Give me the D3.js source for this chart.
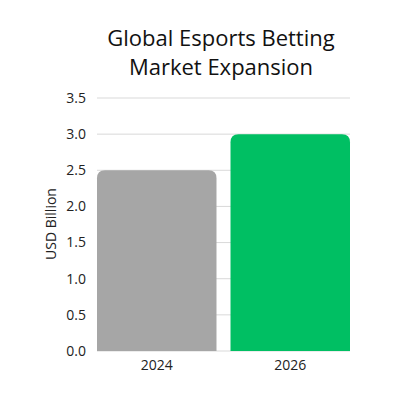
<!DOCTYPE html>
<html><head><meta charset="utf-8">
<script src="https://cdn.jsdelivr.net/npm/d3@7"></script>
<style>body{margin:0;background:#fff}svg{display:block}</style>
</head><body>
<svg id="c" width="400" height="400"></svg>
<script>
const categories = ["2024", "2026"];
const values = [2.5, 3.0];
const colors = ["#a6a6a6", "#00bf63"];
const yTicks = [0, 0.5, 1.0, 1.5, 2.0, 2.5, 3.0, 3.5];
const titleLines = ["Global Esports Betting", "Market Expansion"];
const yLabel = "USD Billion";

const svg = d3.select("#c");
const font = "'Open Sans', sans-serif";
const m = {l: 97, r: 350, t: 98, b: 351};
const x = d3.scaleBand().domain(categories).range([m.l, m.r]).paddingInner(0.105).paddingOuter(0);
const y = d3.scaleLinear().domain([0, 3.5]).range([m.b, m.t]);

svg.append("rect").attr("width",400).attr("height",400).attr("fill","#fff");

svg.selectAll("line.grid").data(yTicks).join("line")
  .attr("x1", m.l).attr("x2", m.r)
  .attr("y1", d => y(d)).attr("y2", d => y(d))
  .attr("stroke", "#d9d9d9").attr("stroke-width", 1);

const r = 8;
svg.selectAll("path.bar").data(values).join("path")
  .attr("fill", (d,i) => colors[i])
  .attr("d", (d,i) => {
    const x0 = x(categories[i]), w = x.bandwidth(), yt = y(d), yb = y(0);
    return `M${x0},${yb}V${yt+r}Q${x0},${yt} ${x0+r},${yt}H${x0+w-r}Q${x0+w},${yt} ${x0+w},${yt+r}V${yb}Z`;
  });

svg.selectAll("text.yt").data(yTicks).join("text")
  .attr("x", 86).attr("y", d => y(d)).attr("dy", "0.35em")
  .attr("text-anchor", "end").attr("font-family", font).attr("font-size", 14)
  .attr("fill", "#222").text(d => d.toFixed(1));

svg.selectAll("text.xt").data(categories).join("text")
  .attr("x", d => x(d) + x.bandwidth()/2).attr("y", 370)
  .attr("text-anchor", "middle").attr("font-family", font).attr("font-size", 14)
  .attr("fill", "#222").text(d => d);

svg.append("text").attr("transform", "translate(56,224) rotate(-90)")
  .attr("text-anchor", "middle").attr("font-family", font).attr("font-size", 14)
  .attr("fill", "#222").text(yLabel);

svg.selectAll("text.title").data(titleLines).join("text")
  .attr("x", 221).attr("y", (d,i) => 46 + i*29)
  .attr("text-anchor", "middle").attr("font-family", font).attr("font-size", 22)
  .attr("fill", "#111").text(d => d);
</script>
</body></html>
